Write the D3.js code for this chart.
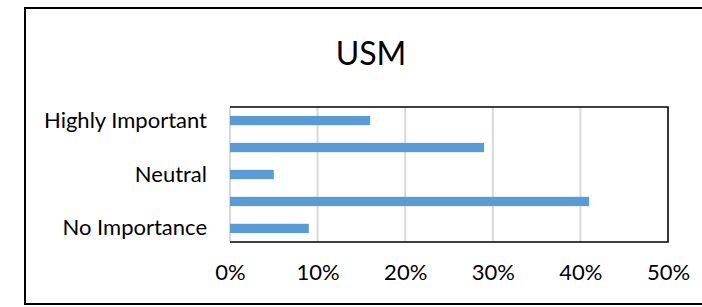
<!DOCTYPE html>
<html>
<head>
<meta charset="utf-8">
<script src="https://cdn.jsdelivr.net/npm/d3@7"></script>
<style>
  body { margin: 0; background: #fff; overflow: hidden; }
  svg { display: block; font-family: Lato, "Open Sans", sans-serif; }
</style>
</head>
<body>
<div id="chart"></div>
<script>
// categories listed top to bottom as they appear
const categories = ['Highly Important', 'Important', 'Neutral', 'Less Important', 'No Importance'];
const values = [0.16, 0.29, 0.05, 0.41, 0.09];
const labelled = ['Highly Important', 'Neutral', 'No Importance'];
const xTicks = [0, 0.1, 0.2, 0.3, 0.4, 0.5];
const title = 'USM';

const width = 702;
const height = 307;
const margin = { top: 107, right: 34, bottom: 65, left: 230 };
const plotW = width - margin.left - margin.right;
const plotH = height - margin.top - margin.bottom;

const svg = d3.select('#chart')
  .append('svg')
  .attr('width', width)
  .attr('height', height);

// outer chart border (right edge runs off the picture)
svg.append('rect')
  .attr('x', 25)
  .attr('y', 8)
  .attr('width', 700)
  .attr('height', 296)
  .style('fill', 'none')
  .style('stroke', '#000')
  .style('stroke-width', 2);

svg.append('text')
  .attr('x', 371)
  .attr('y', 65)
  .attr('text-anchor', 'middle')
  .style('font-size', '32px')
  .style('fill', '#000')
  .text(title);

const g = svg.append('g')
  .attr('transform', `translate(${margin.left},${margin.top})`);

const x = d3.scaleLinear().domain([0, 0.5]).range([0, plotW]);
const y = d3.scaleBand().domain(categories).range([0, plotH])
  .paddingInner(0.655).paddingOuter(0.33);

// grid lines
g.append('g')
  .selectAll('line')
  .data(xTicks)
  .enter()
  .append('line')
  .attr('x1', (d) => x(d))
  .attr('x2', (d) => x(d))
  .attr('y1', 0)
  .attr('y2', plotH)
  .style('stroke', '#d9d9d9')
  .style('stroke-width', 2);

// bars
g.selectAll('.bar')
  .data(categories)
  .enter()
  .append('rect')
  .attr('class', 'bar')
  .attr('x', 0)
  .attr('y', (d) => y(d))
  .attr('width', (d, i) => x(values[i]))
  .attr('height', y.bandwidth())
  .style('fill', '#5b9bd5');

// plot frame: top, right, bottom black
g.append('path')
  .attr('d', `M0,0H${plotW}V${plotH}H0`)
  .style('fill', 'none')
  .style('stroke', '#000')
  .style('stroke-width', 1.5);

// y labels
const yAxis = g.append('g')
  .call(d3.axisLeft(y).tickValues(labelled).tickSize(0).tickPadding(23));
yAxis.select('.domain').remove();
yAxis.selectAll('text')
  .style('font-size', '22px')
  .style('font-family', 'Lato, sans-serif')
  .style('fill', '#000');

// x labels
const xAxis = g.append('g')
  .attr('transform', `translate(0,${plotH})`)
  .call(d3.axisBottom(x).tickValues(xTicks).tickFormat(d3.format('.0%')).tickSize(0).tickPadding(22));
xAxis.select('.domain').remove();
xAxis.selectAll('text')
  .style('font-size', '22px')
  .style('font-family', 'Lato, sans-serif')
  .style('fill', '#000');
</script>
</body>
</html>
